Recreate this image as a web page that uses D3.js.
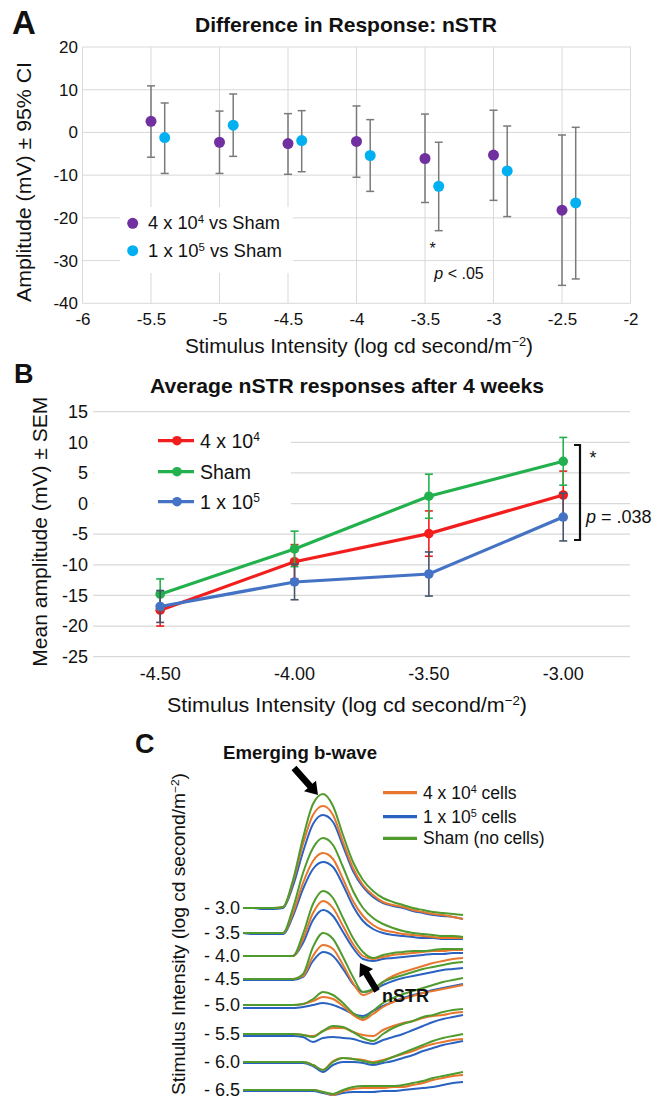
<!DOCTYPE html>
<html><head><meta charset="utf-8">
<script src="https://cdnjs.cloudflare.com/ajax/libs/d3/7.8.5/d3.min.js"></script>
<style>body{margin:0;background:#fff}svg{display:block;font-family:"Liberation Sans",Arial,Helvetica,sans-serif}</style>
</head><body><svg id="chart" width="656" height="1100"></svg>
<script>
// ================= DATA =================
// Panel A: difference in nSTR response vs Sham (mean and 95% CI)
const aX4e4 = [-5.5, -5, -4.5, -4, -3.5, -3, -2.5];
const aMean4e4 = [2.6, -2.3, -2.6, -2.1, -6.1, -5.3, -18.2];
const aLow4e4 = [-5.8, -9.6, -9.8, -10.5, -16.4, -15.9, -35.8];
const aHigh4e4 = [10.9, 5.0, 4.4, 6.2, 4.3, 5.2, -0.6];
const aX1e5 = [-5.4, -4.9, -4.4, -3.9, -3.4, -2.9, -2.4];
const aMean1e5 = [-1.2, 1.7, -1.9, -5.4, -12.6, -9.0, -16.5];
const aLow1e5 = [-9.6, -5.6, -9.2, -13.8, -23.0, -19.7, -34.3];
const aHigh1e5 = [6.9, 9.0, 5.1, 3.0, -2.3, 1.5, 1.2];
const aXTicks = [-6, -5.5, -5, -4.5, -4, -3.5, -3, -2.5, -2];
const aYTicks = [-40, -30, -20, -10, 0, 10, 20];

// Panel B: average nSTR responses after 4 weeks (mean ± SEM)
const bCategories = ["-4.50", "-4.00", "-3.50", "-3.00"];
const bMean4e4 = [-17.4, -9.5, -4.9, 1.4];
const bSem4e4 = [2.6, 2.8, 3.7, 3.9];
const bMeanSham = [-14.8, -7.4, 1.2, 6.9];
const bSemSham = [2.5, 2.9, 3.6, 3.9];
const bMean1e5 = [-16.8, -12.8, -11.5, -2.2];
const bSem1e5 = [2.6, 2.9, 3.6, 3.9];
const bYTicks = [-25, -20, -15, -10, -5, 0, 5, 10, 15];

// Panel C: ERG traces (sampled amplitude, arbitrary units) per stimulus intensity
const cLabels = ["- 3.0", "- 3.5", "- 4.0", "- 4.5", "- 5.0", "- 5.5", "- 6.0", "- 6.5"];
const cRowOffset = [0, -25, -48, -71, -97, -126, -154, -182];
const cTime = [0,10,20,30,40,50,60,70,80,90,100,110,120,130,140,150,160,170,180,190,200,210,220];
const cSham = [
  [0,0,0,0,1,28,70,104,114,102,73,46,28,17,10,6,3,0,-2,-4,-5,-6,-7],
  [0,0,0,0,0,25,60,85,95,88,66,42,25,15,9,5,2,0,-1,-2,-3,-3,-4],
  [0,0,0,0,0,0,22,52,65,58,38,18,4,-2,1,3,4,5,5,6,7,7,7],
  [0,0,0,0,0,0,5,32,46,40,22,2,-13,-10,-3,1,4,7,10,12,14,16,17],
  [0,0,0,0,0,0,1,6,13,10,2,-8,-13,-6,2,7,11,14,17,20,23,25,27],
  [0,0,0,0,0,0,-1,-3,3,8,7,2,-4,-7,0,6,10,13,17,19,22,24,25],
  [0,0,0,0,0,0,0,-3,-8,0,4,3,1,-1,1,5,9,13,17,21,24,26,28],
  [0,0,0,0,0,0,0,0,-2,-4,0,3,4,4,4,4,5,7,9,12,14,16,18]
];
const c4e4 = [
  [0,0,0,0,1,26,64,93,102,93,66,40,23,13,6,3,1,-2,-4,-6,-7,-9,-11],
  [0,0,0,0,0,20,50,72,80,74,54,32,17,8,3,1,-1,-2,-3,-4,-5,-5,-5],
  [0,0,0,0,0,0,17,43,55,48,30,12,0,-3,-1,1,2,3,4,5,5,6,6],
  [0,0,0,0,0,0,3,23,34,30,14,-4,-16,-12,-3,3,7,10,13,16,18,20,21],
  [0,0,0,0,0,0,1,4,8,6,-1,-10,-15,-9,-2,3,6,9,12,14,16,18,20],
  [0,0,0,0,0,0,-1,-2,3,6,6,2,-1,-2,4,8,11,13,16,18,19,21,22],
  [0,0,0,0,0,0,0,-3,-8,1,4,3,2,0,2,5,8,11,15,18,20,22,23],
  [0,0,0,0,0,0,0,0,-2,-5,-1,1,2,2,2,3,3,5,7,10,12,14,15]
];
const c1e5 = [
  [0,0,-1,-1,0,22,56,84,93,86,62,37,21,11,5,2,0,-3,-5,-7,-8,-9,-11],
  [0,-1,-1,-1,-1,17,44,64,71,66,48,27,12,4,0,-2,-3,-4,-5,-5,-6,-6,-6],
  [0,0,0,0,0,0,13,36,46,40,24,8,-3,-5,-3,-2,-1,0,1,2,2,3,3],
  [-1,-1,-1,-1,-1,-1,2,18,27,23,10,-5,-13,-11,-6,-2,1,3,5,7,9,10,11],
  [-3,-3,-3,-3,-3,-3,-2,0,2,0,-4,-9,-11,-6,-1,3,7,10,12,15,17,19,21],
  [-2,-2,-2,-2,-2,-2,-3,-8,-4,-3,-4,-5,-8,-10,-6,-3,0,4,8,12,15,17,19],
  [-1,-1,-1,-1,-1,-1,-1,-4,-10,-3,0,0,-1,-3,-1,1,4,7,11,14,17,19,21],
  [-1,-1,-1,-1,-1,-1,-1,-1,-3,-5,-3,-2,-2,-2,-1,-1,0,1,2,3,5,7,8]
];

// ================= HELPERS =================
const FONT = '"Liberation Sans", Arial, Helvetica, sans-serif';
const svg = d3.select("#chart");

function addText(g, o) {
  const t = g.append("text")
    .attr("font-family", FONT)
    .attr("font-size", o.size)
    .attr("font-weight", o.weight || "normal")
    .attr("fill", o.fill || "#111")
    .attr("text-anchor", o.anchor || "start");
  if (o.rotate) t.attr("transform", `translate(${o.x},${o.y}) rotate(${o.rotate})`);
  else t.attr("x", o.x).attr("y", o.y);
  const parts = Array.isArray(o.text) ? o.text : [[o.text]];
  parts.forEach(p => {
    const s = t.append("tspan").text(p[0]);
    if (p[1] === "sup") s.attr("baseline-shift", "super").attr("font-size", "62%");
    if (p[1] === "italic") s.attr("font-style", "italic");
  });
  if (o.width) t.attr("textLength", o.width).attr("lengthAdjust", "spacingAndGlyphs");
  return t;
}

function arrow(g, tail, tip, shaftW, headW, headL) {
  const dx = tip[0] - tail[0], dy = tip[1] - tail[1];
  const L = Math.hypot(dx, dy), ux = dx / L, uy = dy / L, px = -uy, py = ux;
  const bx = tip[0] - ux * headL, by = tip[1] - uy * headL;
  const pts = [
    [tail[0] + px * shaftW / 2, tail[1] + py * shaftW / 2],
    [bx + px * shaftW / 2, by + py * shaftW / 2],
    [bx + px * headW / 2, by + py * headW / 2],
    tip,
    [bx - px * headW / 2, by - py * headW / 2],
    [bx - px * shaftW / 2, by - py * shaftW / 2],
    [tail[0] - px * shaftW / 2, tail[1] - py * shaftW / 2]
  ];
  g.append("path").attr("d", "M" + pts.map(p => p.join(",")).join("L") + "Z").attr("fill", "#000");
}

// ================= PANEL A =================
const gA = svg.append("g");
const ax = d3.scaleLinear().domain([-6, -2]).range([82.5, 630.5]);
const ay = d3.scaleLinear().domain([-40, 20]).range([303.3, 47]);

gA.append("g").selectAll("line").data(aXTicks).join("line")
  .attr("x1", d => ax(d)).attr("x2", d => ax(d)).attr("y1", ay(20)).attr("y2", ay(-40))
  .attr("stroke", "#d9d9d9").attr("stroke-width", 1);
gA.append("g").selectAll("line").data(aYTicks).join("line")
  .attr("x1", ax(-6)).attr("x2", ax(-2)).attr("y1", d => ay(d)).attr("y2", d => ay(d))
  .attr("stroke", "#d9d9d9").attr("stroke-width", 1);

const axA = gA.append("g").attr("transform", `translate(0,${ay(-40)})`)
  .call(d3.axisBottom(ax).tickValues(aXTicks).tickSize(0).tickPadding(9.5).tickFormat(d => String(d)));
const ayA = gA.append("g").attr("transform", `translate(${ax(-6)},0)`)
  .call(d3.axisLeft(ay).tickValues(aYTicks).tickSize(0).tickPadding(4.5).tickFormat(d => String(d)));
[axA, ayA].forEach(a => {
  a.select(".domain").remove();
  a.selectAll("text").attr("font-family", FONT).attr("font-size", 17).attr("fill", "#111");
});

// legend background
gA.append("rect").attr("x", 120).attr("y", 207).attr("width", 173).attr("height", 66).attr("fill", "#fff");

function errA(xs, lo, hi) {
  const g = gA.append("g").attr("stroke", "#7a7a7a").attr("stroke-width", 1.5);
  xs.forEach((x, i) => {
    g.append("line").attr("x1", ax(x)).attr("x2", ax(x)).attr("y1", ay(lo[i])).attr("y2", ay(hi[i]));
    g.append("line").attr("x1", ax(x) - 4).attr("x2", ax(x) + 4).attr("y1", ay(lo[i])).attr("y2", ay(lo[i]));
    g.append("line").attr("x1", ax(x) - 4).attr("x2", ax(x) + 4).attr("y1", ay(hi[i])).attr("y2", ay(hi[i]));
  });
}
errA(aX4e4, aLow4e4, aHigh4e4);
errA(aX1e5, aLow1e5, aHigh1e5);
gA.append("g").selectAll("circle").data(aX4e4).join("circle")
  .attr("cx", d => ax(d)).attr("cy", (d, i) => ay(aMean4e4[i])).attr("r", 5.5).attr("fill", "#7030a0");
gA.append("g").selectAll("circle").data(aX1e5).join("circle")
  .attr("cx", d => ax(d)).attr("cy", (d, i) => ay(aMean1e5[i])).attr("r", 5.5).attr("fill", "#00b0f0");

// legend A
gA.append("circle").attr("cx", 132.7).attr("cy", 223.3).attr("r", 5.5).attr("fill", "#7030a0");
gA.append("circle").attr("cx", 132.7).attr("cy", 250.7).attr("r", 5.5).attr("fill", "#00b0f0");
addText(gA, {x: 148, y: 229, size: 17.5, text: [["4 x 10"], ["4", "sup"], [" vs Sham"]], width: 132});
addText(gA, {x: 148, y: 256.5, size: 17.5, text: [["1 x 10"], ["5", "sup"], [" vs Sham"]], width: 134});

addText(gA, {x: 432.7, y: 254, size: 16, anchor: "middle", text: "*"});
addText(gA, {x: 434.3, y: 279, size: 16, text: [["p", "italic"], [" < .05"]]});

addText(gA, {x: 12, y: 34, size: 33, weight: "bold", text: "A"});
addText(gA, {x: 195, y: 31.5, size: 21, weight: "bold", text: "Difference in Response: nSTR", width: 302});
addText(gA, {x: 185, y: 353, size: 20.5, text: [["Stimulus Intensity (log cd second/m"], ["\u22122", "sup"], [")"]], width: 348});
addText(gA, {x: 31, y: 182, size: 20.5, rotate: -90, anchor: "middle", text: "Amplitude (mV) \u00b1 95% CI", width: 240});

// ================= PANEL B =================
const gB = svg.append("g");
const bx = d3.scaleBand().domain(bCategories).range([93, 630.4]);
const bcx = c => bx(c) + bx.bandwidth() / 2;
const by = d3.scaleLinear().domain([-25, 15]).range([656.7, 411.7]);

gB.append("g").selectAll("line").data(bYTicks).join("line")
  .attr("x1", 93).attr("x2", 630).attr("y1", d => by(d)).attr("y2", d => by(d))
  .attr("stroke", "#d9d9d9").attr("stroke-width", 1.3);

const bxA = gB.append("g").attr("transform", `translate(0,${by(-25)})`)
  .call(d3.axisBottom(bx).tickSize(0).tickPadding(10.5));
const byA = gB.append("g").attr("transform", `translate(93,0)`)
  .call(d3.axisLeft(by).tickValues(bYTicks).tickSize(0).tickPadding(5).tickFormat(d => String(d)));
[bxA, byA].forEach(a => {
  a.select(".domain").remove();
  a.selectAll("text").attr("font-family", FONT).attr("font-size", 18).attr("fill", "#111");
});

gB.append("rect").attr("x", 94).attr("y", 425).attr("width", 197).attr("height", 90).attr("fill", "#fff");

const bSeries = [
  {mean: bMean4e4, sem: bSem4e4, color: "#f21d1d", err: "#f21d1d", name: [["4 x 10"], ["4", "sup"]], ly: 440.7},
  {mean: bMeanSham, sem: bSemSham, color: "#22b14c", err: "#22b14c", name: [["Sham"]], ly: 471.7},
  {mean: bMean1e5, sem: bSem1e5, color: "#4472c4", err: "#44546a", name: [["1 x 10"], ["5", "sup"]], ly: 501.7}
];
const bLine = d3.line().x((d, i) => bcx(bCategories[i])).y(d => by(d));
bSeries.forEach(s => {
  const ge = gB.append("g").attr("stroke", s.err).attr("stroke-width", 1.6);
  bCategories.forEach((c, i) => {
    const x = bcx(c), lo = by(s.mean[i] - s.sem[i]), hi = by(s.mean[i] + s.sem[i]);
    ge.append("line").attr("x1", x).attr("x2", x).attr("y1", lo).attr("y2", hi);
    ge.append("line").attr("x1", x - 4).attr("x2", x + 4).attr("y1", lo).attr("y2", lo);
    ge.append("line").attr("x1", x - 4).attr("x2", x + 4).attr("y1", hi).attr("y2", hi);
  });
  gB.append("path").attr("d", bLine(s.mean)).attr("fill", "none").attr("stroke", s.color).attr("stroke-width", 3.2);
  gB.append("g").selectAll("circle").data(s.mean).join("circle")
    .attr("cx", (d, i) => bcx(bCategories[i])).attr("cy", d => by(d)).attr("r", 4.8).attr("fill", s.color);
  // legend entry
  gB.append("line").attr("x1", 158).attr("x2", 194).attr("y1", s.ly).attr("y2", s.ly).attr("stroke", s.color).attr("stroke-width", 3.2);
  gB.append("circle").attr("cx", 177).attr("cy", s.ly).attr("r", 4.8).attr("fill", s.color);
  addText(gB, {x: 200, y: s.ly + 6.8, size: 19.5, text: s.name});
});

gB.append("path").attr("d", "M574,445H580V540H574").attr("fill", "none").attr("stroke", "#111").attr("stroke-width", 2.2);
addText(gB, {x: 593, y: 464, size: 18, anchor: "middle", text: "*"});
addText(gB, {x: 586, y: 523, size: 18, text: [["p", "italic"], [" = .038"]]});

addText(gB, {x: 14, y: 383, size: 27, weight: "bold", text: "B"});
addText(gB, {x: 347, y: 393.3, size: 20.5, weight: "bold", anchor: "middle", text: "Average nSTR responses after 4 weeks", width: 394});
addText(gB, {x: 347, y: 712, size: 21, anchor: "middle", text: [["Stimulus Intensity (log cd second/m"], ["\u22122", "sup"], [")"]], width: 360});
addText(gB, {x: 47, y: 531.7, size: 21, rotate: -90, anchor: "middle", text: "Mean amplitude (mV) \u00b1 SEM", width: 270});

// ================= PANEL C =================
const gC = svg.append("g");
const cx = d3.scaleLinear().domain([0, 220]).range([243, 463]);
const cy = d3.scaleLinear().domain([-200, 120]).range([1108, 788]);
const cLine = d3.line().x((d, i) => cx(cTime[i])).y(d => d).curve(d3.curveMonotoneX);

const cSets = [
  {data: c1e5, color: "#2a62c2"},
  {data: c4e4, color: "#e8762d"},
  {data: cSham, color: "#4f9b2e"}
];
cSets.forEach(s => {
  s.data.forEach((row, r) => {
    gC.append("path")
      .attr("d", cLine(row.map(v => cy(cRowOffset[r] + v))))
      .attr("fill", "none").attr("stroke", s.color).attr("stroke-width", 2)
      .attr("stroke-linejoin", "round");
  });
});

cLabels.forEach((lab, r) => {
  addText(gC, {x: 240, y: cy(cRowOffset[r]) + 6.3, size: 18, anchor: "end", text: lab});
});

// legend C
const cLegend = [
  {color: "#e8762d", text: [["4 x 10"], ["4", "sup"], [" cells"]], y: 792.7},
  {color: "#2a62c2", text: [["1 x 10"], ["5", "sup"], [" cells"]], y: 816.7},
  {color: "#4f9b2e", text: [["Sham (no cells)"]], y: 838.3}
];
cLegend.forEach(l => {
  gC.append("line").attr("x1", 383).attr("x2", 417).attr("y1", l.y).attr("y2", l.y).attr("stroke", l.color).attr("stroke-width", 3.2);
  addText(gC, {x: 423, y: l.y + 5.8, size: 17.5, text: l.text});
});

addText(gC, {x: 135, y: 753, size: 27, weight: "bold", text: "C"});
addText(gC, {x: 223, y: 759, size: 18, weight: "bold", text: "Emerging b-wave", width: 154});
addText(gC, {x: 382, y: 1001.5, size: 18, weight: "bold", text: "nSTR"});
addText(gC, {x: 185, y: 773, size: 18.5, rotate: -90, anchor: "end", text: [["Stimulus Intensity (log cd second/m"], ["\u22122", "sup"], [")"]], width: 322});

arrow(gC, [294, 768], [318, 795], 6.5, 16, 12);
arrow(gC, [377, 991], [360, 963], 6.5, 16, 12);
</script></body></html>
